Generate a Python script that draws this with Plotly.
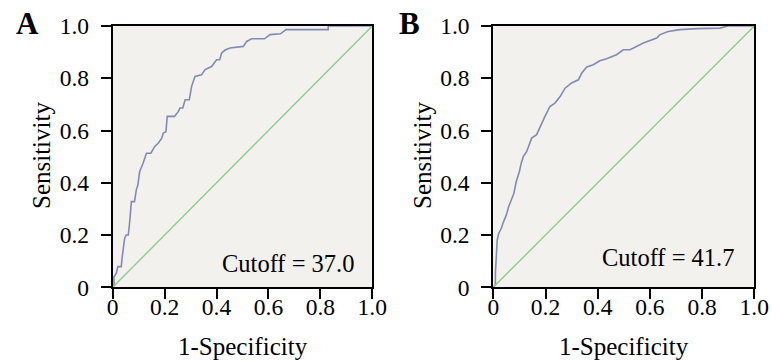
import plotly.graph_objects as go

# Panel A ROC curve (1-Specificity, Sensitivity)
roc_a_x = [0, 0.005, 0.005, 0.014, 0.02, 0.033, 0.036, 0.04, 0.046, 0.052, 0.06, 0.065, 0.072, 0.084,
           0.091, 0.097, 0.101, 0.104, 0.117, 0.13, 0.147, 0.162, 0.176, 0.189, 0.195, 0.205, 0.21,
           0.238, 0.253, 0.259, 0.27, 0.279, 0.295, 0.304, 0.317, 0.342, 0.356, 0.381, 0.4, 0.412,
           0.42, 0.433, 0.452, 0.503, 0.516, 0.535, 0.585, 0.606, 0.646, 0.668, 0.83, 0.83, 1.0]
roc_a_y = [0, 0.01, 0.04, 0.054, 0.079, 0.079, 0.111, 0.143, 0.188, 0.2, 0.2, 0.245, 0.328, 0.328,
           0.373, 0.392, 0.424, 0.443, 0.475, 0.513, 0.513, 0.539, 0.552, 0.571, 0.59, 0.595, 0.654,
           0.654, 0.673, 0.686, 0.686, 0.718, 0.718, 0.769, 0.807, 0.813, 0.833, 0.845, 0.871, 0.871,
           0.897, 0.908, 0.916, 0.922, 0.941, 0.951, 0.951, 0.967, 0.97, 0.986, 0.986, 1.0, 1.0]

# Panel B ROC curve
roc_b_x = [0, 0.008, 0.008, 0.011, 0.015, 0.021, 0.031, 0.037, 0.05, 0.059, 0.069, 0.079, 0.088,
           0.1, 0.107, 0.115, 0.128, 0.136, 0.147, 0.166, 0.185, 0.198, 0.217, 0.236, 0.256, 0.275,
           0.3, 0.326, 0.339, 0.358, 0.383, 0.408, 0.434, 0.472, 0.498, 0.524, 0.575, 0.626, 0.639,
           0.67, 0.715, 0.78, 0.868, 0.887, 0.9, 1.0]
roc_b_y = [0, 0.01, 0.054, 0.124, 0.181, 0.207, 0.226, 0.245, 0.277, 0.309, 0.334, 0.36, 0.405,
           0.443, 0.475, 0.5, 0.52, 0.539, 0.571, 0.584, 0.628, 0.654, 0.692, 0.705, 0.73, 0.762,
           0.782, 0.794, 0.82, 0.843, 0.852, 0.867, 0.875, 0.89, 0.909, 0.909, 0.935, 0.954, 0.967,
           0.979, 0.986, 0.99, 0.992, 0.996, 1.0, 1.0]

ref_x = [0, 1]
ref_y = [0, 1]

tick_vals = [0, 0.2, 0.4, 0.6, 0.8, 1.0]
tick_text = ["0", "0.2", "0.4", "0.6", "0.8", "1.0"]

panel_labels = ["A", "B"]
cutoff_labels = ["Cutoff = 37.0", "Cutoff = 41.7"]
x_title = "1-Specificity"
y_title = "Sensitivity"

W, H = 772, 361
FONT = "Liberation Serif, Times New Roman, serif"
ROC_COLOR = "#8489B4"
REF_COLOR = "#8FCB8F"
BG = "#F2F1EE"

def px(x):
    return x / W

def py(y):
    return 1 - y / H

fig = go.Figure()

fig.add_trace(go.Scatter(x=roc_a_x, y=roc_a_y, mode="lines", line=dict(color=ROC_COLOR, width=1.6),
                         xaxis="x", yaxis="y", showlegend=False))
fig.add_trace(go.Scatter(x=ref_x, y=ref_y, mode="lines", line=dict(color=REF_COLOR, width=1.4),
                         xaxis="x", yaxis="y", showlegend=False))
fig.add_trace(go.Scatter(x=roc_b_x, y=roc_b_y, mode="lines", line=dict(color=ROC_COLOR, width=1.6),
                         xaxis="x2", yaxis="y2", showlegend=False))
fig.add_trace(go.Scatter(x=ref_x, y=ref_y, mode="lines", line=dict(color=REF_COLOR, width=1.4),
                         xaxis="x2", yaxis="y2", showlegend=False))

axis_common = dict(range=[0, 1], tickvals=tick_vals, ticktext=tick_text, showgrid=False,
                   zeroline=False, showline=True, mirror=True, linecolor="black", linewidth=2,
                   ticks="outside", ticklen=10, tickwidth=2, tickcolor="black",
                   tickfont=dict(family=FONT, size=23.5, color="black"), automargin=False,
                   fixedrange=True)

ya_dom = [py(287.3), py(26)]
fig.update_layout(
    width=W, height=H,
    margin=dict(l=0, r=0, t=0, b=0),
    paper_bgcolor="white",
    plot_bgcolor=BG,
    xaxis=dict(domain=[px(112.7), px(372.3)], anchor="y", ticklabelstandoff=-13, **axis_common),
    yaxis=dict(domain=ya_dom, anchor="x", ticklabelstandoff=7, **axis_common),
    xaxis2=dict(domain=[px(493.3), px(754.3)], anchor="y2", ticklabelstandoff=-13, **axis_common),
    yaxis2=dict(domain=ya_dom, anchor="x2", ticklabelstandoff=7, **axis_common),
)

for xr, yr in (("x", "y"), ("x2", "y2")):
    fig.add_shape(type="rect", xref=xr + " domain", yref=yr + " domain", x0=0, x1=1, y0=0, y1=1,
                  fillcolor=BG, line=dict(width=0), layer="below")

ann = []
for lbl, cx in zip(panel_labels, (27, 409)):
    ann.append(dict(text="<b>%s</b>" % lbl, x=px(cx), y=py(23), xref="paper", yref="paper",
                    xanchor="center", yanchor="middle", showarrow=False,
                    font=dict(family=FONT, size=31, color="black")))
ann.append(dict(text=cutoff_labels[0], x=px(356), y=py(263), xref="paper", yref="paper",
                xanchor="right", yanchor="middle", showarrow=False,
                font=dict(family=FONT, size=24.5, color="black")))
ann.append(dict(text=cutoff_labels[1], x=px(736), y=py(257), xref="paper", yref="paper",
                xanchor="right", yanchor="middle", showarrow=False,
                font=dict(family=FONT, size=24.5, color="black")))
for cx in (242.5, 624):
    ann.append(dict(text=x_title, x=px(cx), y=py(346), xref="paper", yref="paper",
                    xanchor="center", yanchor="middle", showarrow=False,
                    font=dict(family=FONT, size=25, color="black")))
for cx in (41, 422):
    ann.append(dict(text=y_title, x=px(cx), y=py(156), xref="paper", yref="paper",
                    xanchor="center", yanchor="middle", textangle=-90, showarrow=False,
                    font=dict(family=FONT, size=25, color="black")))

fig.update_layout(annotations=ann)

fig.write_html("out.html", config={"displayModeBar": False},
               post_script="document.body.style.margin='0';document.body.style.overflow='hidden';")
